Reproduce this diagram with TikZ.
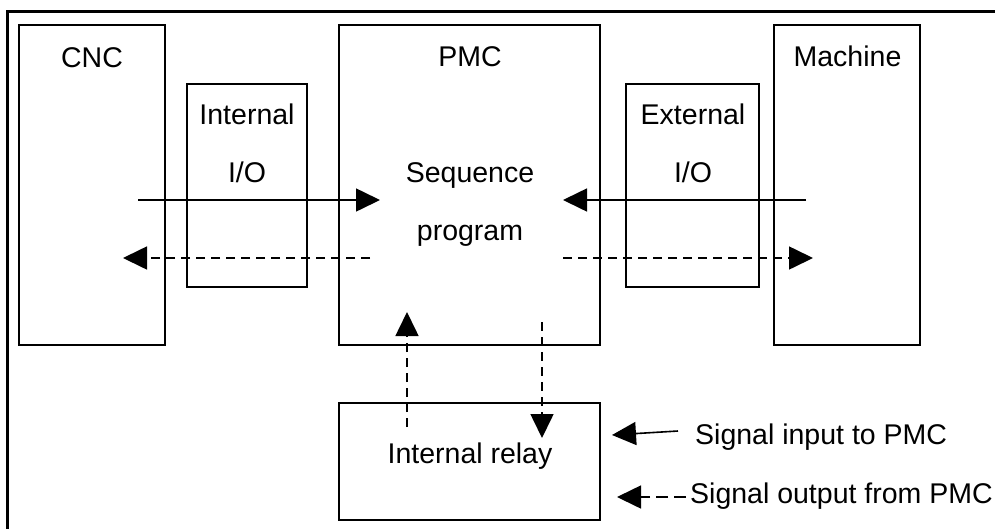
\documentclass[tikz,border=0pt]{standalone}
\usepackage{fontspec}
\setmainfont{Liberation Sans}
\usetikzlibrary{arrows.meta, positioning}

\begin{document}
\begin{tikzpicture}[x=1pt, y=-1pt,
            unit/.style={draw, line width=2.4pt, minimum width=#1, inner sep=0pt},
            txt/.style={anchor=base, inner sep=0pt, font=\fontsize{28.5}{34}\selectfont},
            insig/.style={line width=1.6pt, -{Triangle[length=24pt, width=23pt]}},
            outsig/.style={insig, dash pattern=on 9pt off 6pt}]
        \useasboundingbox (0,0) rectangle (995,528);
        \clip (0,0) rectangle (995,528);
        \draw[line width=3pt] (7,11) rectangle (1001,534);
        \node[unit=146pt, minimum height=320pt] (cnc) at (92,185) {};
        \node[unit=120pt, minimum height=203pt] (inio) at (247,185.5) {};
        \node[unit=261pt, minimum height=320pt] (pmc) at (469.5,185) {};
        \node[unit=133pt, minimum height=203pt] (exio) at (692.5,185.5) {};
        \node[unit=146pt, minimum height=320pt] (mach) at (847,185) {};
        \node[unit=261pt, minimum height=117pt] (relay) at (469.5,461.5) {};
        \node[txt] (cnct) at (92,67) {CNC};
        \node[txt] (init) at (247,124) {Internal};
        \node[txt] (inio2) at (247,182) {I/O};
        \node[txt] (pmct) at (470,66) {PMC};
        \node[txt] (seq) at (470,182) {Sequence};
        \node[txt] (prog) at (470,240) {program};
        \node[txt] (ext) at (693,124) {External};
        \node[txt] (exio2) at (693,182) {I/O};
        \node[txt] (macht) at (847.5,66) {Machine};
        \node[txt] (relayt) at (470,463) {Internal relay};
        \node[txt, anchor=base west] (lin) at (695,444) {Signal input to PMC};
        \node[txt, anchor=base west] (lout) at (690,503) {Signal output from PMC};
        \coordinate (ci) at (138,200);
        \coordinate (pi) at (380,200);
        \coordinate (po) at (370,258);
        \coordinate (co) at (123,258);
        \coordinate (mi) at (806,200);
        \coordinate (pe) at (563,200);
        \coordinate (pf) at (563,258);
        \coordinate (mo) at (813,258);
        \coordinate (ru) at (407,427);
        \coordinate (pu) at (407,312);
        \coordinate (pd) at (542,322);
        \coordinate (rd) at (542,438);
        \coordinate (ls) at (678,431);
        \coordinate (lt) at (612,435);
        \coordinate (lds) at (686,497);
        \coordinate (ldt) at (617,497);
        \draw[insig] (ci) -- (pi);
        \draw[insig] (mi) -- (pe);
        \draw[outsig] (po) -- (co);
        \draw[outsig] (pf) -- (mo);
        \draw[outsig] (ru) -- (pu);
        \draw[outsig] (pd) -- (rd);
        \draw[insig] (ls) -- (lt);
        \draw[outsig, dash pattern=on 12pt off 6pt] (lds) -- (ldt);
    \end{tikzpicture}
\end{document}
